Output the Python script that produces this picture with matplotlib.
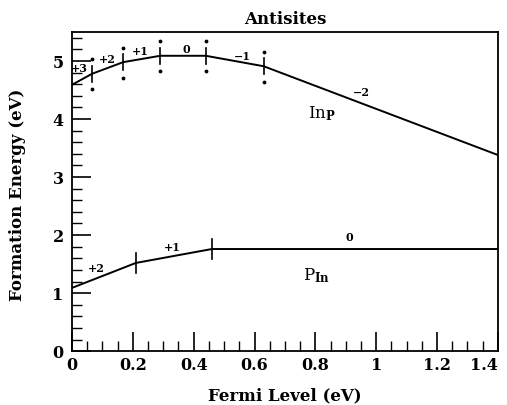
import numpy as np
import matplotlib
matplotlib.use("Agg")
import matplotlib.pyplot as plt
import matplotlib.transforms as mtransforms
from matplotlib.ticker import MultipleLocator

plt.rcParams['font.family'] = ['DejaVu Serif']
plt.rcParams['font.weight'] = 'bold'
plt.rcParams['mathtext.fontset'] = 'dejavuserif'

# In_P antisite: transition levels and energies
inp_x = [0.0, 0.066, 0.168, 0.29, 0.44, 0.63, 1.4]
inp_y = [4.59, 4.78, 4.98, 5.09, 5.09, 4.91, 3.38]
inp_labels = ['+3', '+2', '+1', '0', '\u22121', '\u22122']
inp_label_x = [0.025, 0.115, 0.225, 0.375, 0.56, 0.95]
inp_label_y = [4.87, 5.03, 5.17, 5.2, 5.08, 4.45]

# P_In antisite
pin_x = [0.0, 0.21, 0.46, 1.4]
pin_y = [1.09, 1.52, 1.76, 1.76]
pin_labels = ['+2', '+1', '0']
pin_label_x = [0.08, 0.33, 0.91]
pin_label_y = [1.43, 1.78, 1.95]

xtick_vals = [0, 0.2, 0.4, 0.6, 0.8, 1.0, 1.2, 1.4]
xtick_text = ['0', '0.2', '0.4', '0.6', '0.8', '1', '1.2', '1.4']

fig = plt.figure(figsize=(5.07, 4.05), dpi=100)
ax = fig.add_axes([0.142, 0.133, 0.84, 0.788])

ax.plot(inp_x, inp_y, color='black', lw=1.4)
ax.plot(pin_x, pin_y, color='black', lw=1.4)

# transition markers
for i in range(1, len(inp_x) - 1):
    ax.plot([inp_x[i], inp_x[i]], [inp_y[i] - 0.14, inp_y[i] + 0.14], color='black', lw=1.2)
    ax.plot([inp_x[i], inp_x[i]], [inp_y[i] - 0.27, inp_y[i] + 0.25], 'k.', ms=3.5, ls='none')
for i in range(1, len(pin_x) - 1):
    ax.plot([pin_x[i], pin_x[i]], [pin_y[i] - 0.17, pin_y[i] + 0.17], color='black', lw=1.2)

for lab, x, y in zip(inp_labels, inp_label_x, inp_label_y):
    ax.text(x, y, lab, fontsize=8, fontweight='bold', ha='center', va='center')
for lab, x, y in zip(pin_labels, pin_label_x, pin_label_y):
    ax.text(x, y, lab, fontsize=8, fontweight='bold', ha='center', va='center')

ax.text(0.775, 4.1, r'In$_\mathbf{P}$', fontsize=12, fontweight='normal', ha='left', va='center')
ax.text(0.76, 1.3, r'P$_\mathbf{In}$', fontsize=12, fontweight='normal', ha='left', va='center')

ax.set_xlim(0, 1.4)
ax.set_ylim(0, 5.5)
ax.xaxis.set_minor_locator(MultipleLocator(0.05))
ax.yaxis.set_major_locator(MultipleLocator(1))
ax.yaxis.set_minor_locator(MultipleLocator(0.2))
ax.set_xticks(xtick_vals)
ax.set_xticklabels(xtick_text, fontweight='bold')
for lab in ax.get_yticklabels():
    lab.set_fontweight('bold')
ax.tick_params(which='major', direction='in', length=14, width=1.2, labelsize=11.5, pad=6)
ax.tick_params(axis='x', which='major', pad=4)
ax.tick_params(which='minor', direction='in', length=7, width=1.0)
for s in ax.spines.values():
    s.set_linewidth(1.3)

# pull the last x label inside the figure
last = ax.get_xticklabels()[-1]
last.set_transform(last.get_transform() + mtransforms.ScaledTranslation(-10 / 72, 0, fig.dpi_scale_trans))

ax.set_xlabel('Fermi Level (eV)', fontsize=12, fontweight='bold')
ax.set_ylabel('Formation Energy (eV)', fontsize=12, fontweight='bold')
ax.xaxis.set_label_coords(0.5, -0.113)
ax.yaxis.set_label_coords(-0.108, 0.49)
ax.set_title('Antisites', fontsize=12, fontweight='bold', pad=6)

fig.savefig('out.png', dpi=100)
